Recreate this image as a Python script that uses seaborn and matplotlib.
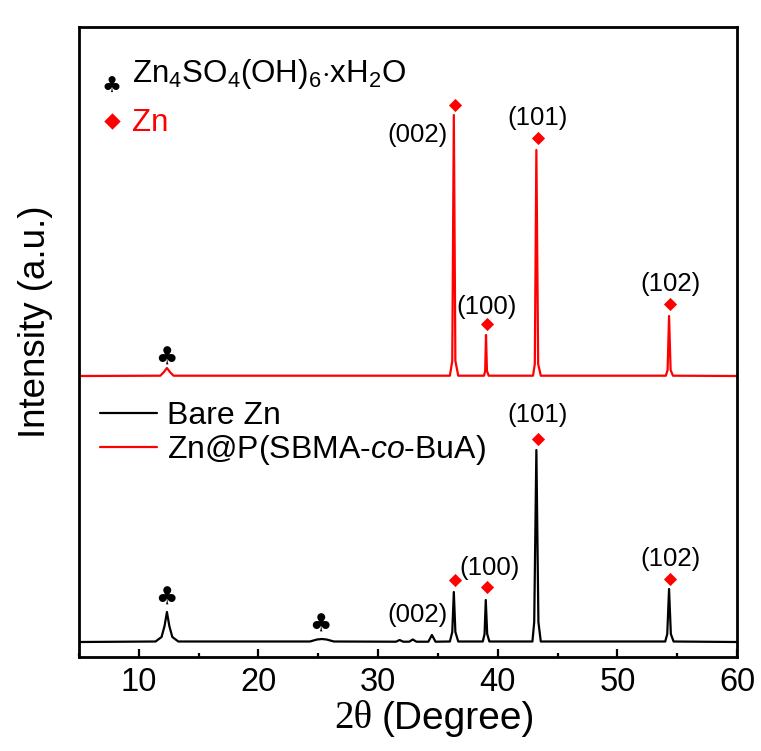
import numpy as np
import pandas as pd
import matplotlib
matplotlib.use("Agg")
import matplotlib.pyplot as plt
import seaborn as sns
from matplotlib.ticker import MultipleLocator

# ---- data ----
bare_x = [5, 11.4, 11.9, 12.15, 12.35, 12.55, 12.8, 13.3, 24.3, 24.9, 25.3, 25.7, 26.3,
          31.5, 31.8, 32.1, 32.6, 32.9, 33.2, 34.2, 34.5, 34.8, 36.0, 36.2, 36.33, 36.46, 36.7,
          38.75, 38.9, 39.0, 39.12, 39.3, 42.9, 43.05, 43.23, 43.4, 43.6,
          54.0, 54.17, 54.32, 54.47, 54.7, 60]
bare_y = [0, 0.5, 5, 16, 30, 16, 5, 0.5, 0.5, 2.5, 3, 2.5, 0.5,
          0.3, 2, 0.3, 0.3, 2.5, 0.3, 0.3, 7, 0.3, 0.5, 10, 50, 10, 0.5,
          0.5, 8, 42, 8, 0.5, 0.5, 20, 192, 20, 0.5,
          0.5, 8, 53, 8, 0.5, 0]
coat_x = [5, 11.8, 12.1, 12.35, 12.6, 12.9, 36.0, 36.2, 36.33, 36.46, 36.7,
          38.85, 38.95, 39.02, 39.1, 39.25, 42.95, 43.1, 43.23, 43.38, 43.6,
          54.05, 54.2, 54.32, 54.45, 54.65, 60]
coat_y = [0, 0.3, 4, 8, 4, 0.3, 0.3, 15, 261, 15, 0.3,
          0.3, 5, 41, 5, 0.3, 0.3, 12, 226, 12, 0.3,
          0.3, 6, 60, 6, 0.3, 0]
coat_offset = 266

series_names = ["Bare Zn", r"Zn@P(SBMA-$\it{co}$-BuA)"]

# Zn peak markers / labels
zn_labels = ["(002)", "(100)", "(101)", "(102)"]
coat_marker_x = [36.4, 39.1, 43.35, 54.4]
coat_marker_y = [537, 318, 504, 338]
coat_label_x = [33.3, 39.1, 43.3, 54.4]
coat_label_y = [507, 335, 524, 358]
bare_marker_x = [36.4, 39.1, 43.35, 54.4]
bare_marker_y = [62, 55, 203, 63]
bare_label_x = [33.3, 39.3, 43.3, 54.4]
bare_label_y = [27, 74, 227, 83]
club_x = [12.3, 25.2, 12.3]
club_y = [44, 17, 284]

# ---- plotting ----
sns.set_style("ticks")
plt.rcParams['font.family'] = ['Liberation Sans', 'DejaVu Sans']
plt.rcParams['mathtext.fontset'] = 'custom'
plt.rcParams['mathtext.rm'] = 'Liberation Sans'
plt.rcParams['mathtext.it'] = 'Liberation Sans:italic'
plt.rcParams['text.color'] = 'black'
plt.rcParams['axes.labelcolor'] = 'black'
plt.rcParams['xtick.color'] = 'black'

W, H = 761, 751
fig = plt.figure(figsize=(W / 100, H / 100), dpi=100)
L, R, T, B = 79, 737, 27, 657
ax = fig.add_axes([L / W, 1 - B / H, (R - L) / W, (B - T) / H])

red = "#ff0000"
df_b = pd.DataFrame({"x": bare_x, "y": bare_y})
df_c = pd.DataFrame({"x": coat_x, "y": np.array(coat_y) + coat_offset})
sns.lineplot(data=df_b, x="x", y="y", color="black", lw=1.6, ax=ax, label=series_names[0])
sns.lineplot(data=df_c, x="x", y="y", color=red, lw=1.6, ax=ax, label=series_names[1])

ax.scatter(coat_marker_x, coat_marker_y, marker="D", s=45, color=red, zorder=5, lw=0)
ax.scatter(bare_marker_x, bare_marker_y, marker="D", s=45, color=red, zorder=5, lw=0)
for t, x, y in zip(zn_labels, coat_label_x, coat_label_y):
    ax.text(x, y, t, ha="center", va="center", fontsize=18.5)
for t, x, y in zip(zn_labels, bare_label_x, bare_label_y):
    ax.text(x, y, t, ha="center", va="center", fontsize=18.5)
for x, y in zip(club_x, club_y):
    ax.text(x, y, "\u2663", ha="center", va="center", fontsize=18, family="DejaVu Sans")

# phase legend (top left)
ax.text(0.050, 0.905, "\u2663", transform=ax.transAxes, fontsize=16, va="center",
        ha="center", family="DejaVu Sans")
ax.text(0.080, 0.913, r"Zn$_4$SO$_4$(OH)$_6$$\cdot$xH$_2$O", transform=ax.transAxes,
        fontsize=22.5, va="baseline")
ax.scatter([0.050], [0.851], transform=ax.transAxes, marker="D", s=70, color=red, lw=0)
ax.text(0.080, 0.835, "Zn", transform=ax.transAxes, fontsize=22.5, va="baseline", color=red)

leg = ax.legend(loc="upper left", bbox_to_anchor=(0.012, 0.427), frameon=False,
                fontsize=23, handlelength=1.8, handletextpad=0.3, labelspacing=0.08,
                borderaxespad=0)

ax.set_xlim(5, 60)
ax.set_ylim(-15, 615)
ax.xaxis.set_major_locator(MultipleLocator(10))
ax.xaxis.set_minor_locator(MultipleLocator(5))
ax.tick_params(axis="x", which="major", direction="in", length=6, width=1.6,
               labelsize=23.5, pad=7)
ax.tick_params(axis="x", which="minor", direction="in", length=3, width=1.6)
ax.set_yticks([])
ax.set_xlabel("")
ax.set_ylabel("")
for s in ax.spines.values():
    s.set_visible(True)
    s.set_linewidth(2)
    s.set_color("black")

# axis titles
split = 382
fig.text(split / W - 0.012, 1 - 719 / H, "2\u03b8", fontsize=28, ha="right", va="center",
         family="Liberation Serif")
fig.text(split / W, 1 - 719 / H, "(Degree)", fontsize=28, ha="left", va="center")
fig.text(36 / W, 1 - 322 / H, "Intensity (a.u.)", fontsize=26.5, rotation=90,
         ha="center", va="center")

fig.savefig("out.png", dpi=100)
